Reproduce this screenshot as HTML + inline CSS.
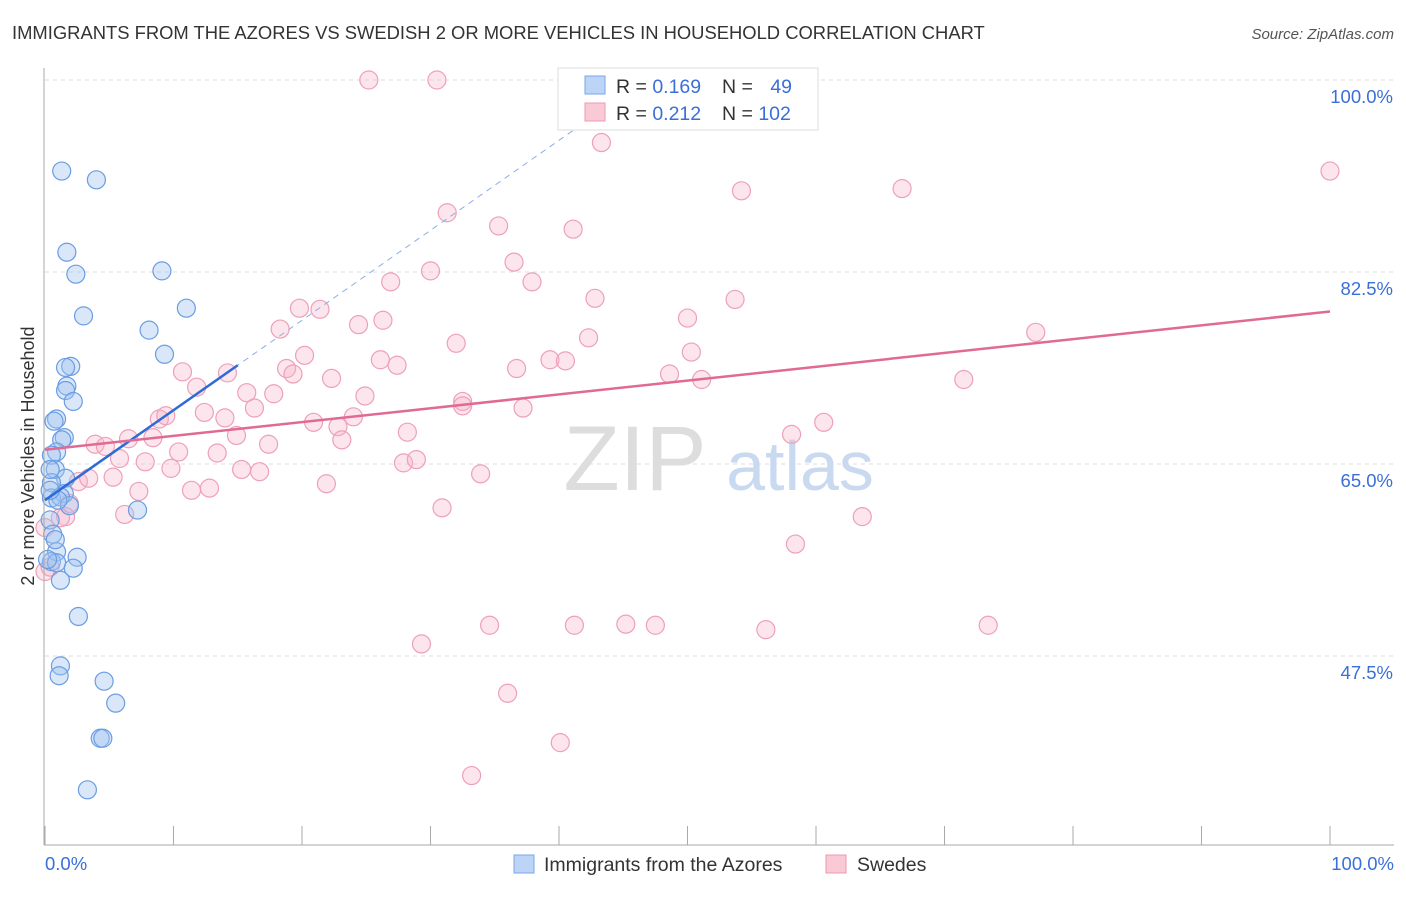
<!DOCTYPE html>
<html><head><meta charset="utf-8"><style>
body{margin:0;background:#fff;font-family:"Liberation Sans",sans-serif}
svg text{font-family:"Liberation Sans",sans-serif}
</style></head><body>
<svg id="chart" width="1406" height="892" xmlns="http://www.w3.org/2000/svg">
<text x="12" y="39" font-size="18.4" fill="#333">IMMIGRANTS FROM THE AZORES VS SWEDISH 2 OR MORE VEHICLES IN HOUSEHOLD CORRELATION CHART</text>
<text x="1394" y="39" font-size="15" fill="#555" font-style="italic" text-anchor="end">Source: ZipAtlas.com</text>
<g id="grid"></g>
<text x="635" y="490" font-size="92" fill="#ddd" font-family="Liberation Serif" text-anchor="middle">ZIP</text>
<text x="800" y="490" font-size="70" fill="#c9daf0" text-anchor="middle">atlas</text>
<g id="pts"></g>
<g id="lines"></g>
<line x1="44" y1="68" x2="44" y2="845" stroke="#aaa"/>
<line x1="44" y1="845" x2="1394" y2="845" stroke="#aaa"/>
<text transform="translate(34,456) rotate(-90)" font-size="18" fill="#333" text-anchor="middle">2 or more Vehicles in Household</text>
<text x="45" y="870" font-size="18.5" fill="#3a6fd8">0.0%</text>
<text x="1394" y="870" font-size="18.5" fill="#3a6fd8" text-anchor="end">100.0%</text>
<g>
<rect x="558" y="68" width="260" height="62" fill="#fff" stroke="#ddd"/>
<rect x="585" y="76" width="20" height="18" fill="#bcd4f6" stroke="#7aa6e8"/>
<rect x="585" y="103" width="20" height="18" fill="#f9c9d6" stroke="#ec9ab2"/>
<text x="616" y="93" font-size="19.5" fill="#333">R = <tspan fill="#3a6fd8">0.169</tspan></text>
<text x="722" y="93" font-size="19.5" fill="#333">N = <tspan fill="#3a6fd8" dx="12">49</tspan></text>
<text x="616" y="120" font-size="19.5" fill="#333">R = <tspan fill="#3a6fd8">0.212</tspan></text>
<text x="722" y="120" font-size="19.5" fill="#333">N = <tspan fill="#3a6fd8">102</tspan></text>
</g>
<g>
<rect x="514" y="855" width="20" height="18" fill="#bcd4f6" stroke="#7aa6e8"/>
<text x="544" y="871" font-size="19.5" fill="#333">Immigrants from the Azores</text>
<rect x="826" y="855" width="20" height="18" fill="#f9c9d6" stroke="#ec9ab2"/>
<text x="857" y="871" font-size="19.5" fill="#333">Swedes</text>
</g>
</svg>
<script>
const yTicks=[100,82.5,65,47.5];
const xTicks=[0,10,20,30,40,50,60,70,80,90,100];
const blueX=[1.3,4,1.7,2.4,9.1,11,3,8.1,9.3,2,1.6,1.7,1.6,2.2,0.9,0.7,1.5,1.3,0.9,0.5,0.8,1.6,0.5,1.5,0.5,1.2,1.9,7.2,0.4,0.6,0.9,2.5,0.5,0.9,2.2,1.2,2.6,1.2,1.1,4.6,5.5,4.3,4.5,3.3,0.4,0.2,1,0.8,0.4];
const blueY=[91.7,90.9,84.3,82.3,82.6,79.2,78.5,77.2,75,73.9,73.8,72.1,71.7,70.7,69.1,68.9,67.4,67.2,66.1,65.8,64.5,63.7,63.3,62.3,61.9,62,61.2,60.8,59.9,58.6,57,56.5,56.1,56,55.5,54.4,51.1,46.6,45.7,45.2,43.2,40,40,35.3,64.5,56.3,61.7,58.1,62.6];
const pinkX=[25.2,30.5,43.3,100,54.2,66.7,31.3,35.3,41.1,36.5,30,37.9,26.9,42.8,53.7,19.8,21.4,77.1,50,18.3,24.4,26.3,32,42.3,50.3,20.2,39.3,40.5,26.1,27.4,36.7,14.2,18.8,19.3,10.7,22.3,48.6,51.1,71.5,11.8,15.7,17.8,24.9,16.3,32.5,32.5,37.2,12.4,8.9,14,9.4,24,20.9,22.8,60.6,28.2,14.9,58.1,8.4,10.4,3.9,6.5,4.7,23.1,17.4,13.4,5.8,7.8,9.8,16.7,15.3,27.9,28.9,33.9,2.6,5.3,3.4,7.3,11.4,21.9,12.8,1.9,30.9,6.2,63.6,1.6,58.4,0,0,34.6,41.2,45.2,47.5,56.1,73.4,29.3,36,40.1,33.2,0.4,1.2];
const pinkY=[100,100,94.3,91.7,89.9,90.1,87.9,86.7,86.4,83.4,82.6,81.6,81.6,80.1,80,79.2,79.1,77,78.3,77.3,77.7,78.1,76,76.5,75.2,74.9,74.5,74.4,74.5,74,73.7,73.3,73.7,73.2,73.4,72.8,73.2,72.7,72.7,72,71.5,71.4,71.2,70.1,70.7,70.3,70.1,69.7,69.1,69.2,69.4,69.3,68.8,68.4,68.8,67.9,67.6,67.7,67.4,66.1,66.8,67.3,66.6,67.2,66.8,66,65.5,65.2,64.6,64.3,64.5,65.1,65.4,64.1,63.4,63.8,63.7,62.5,62.6,63.2,62.8,61.4,61,60.4,60.2,60.2,57.7,59.2,55.2,50.3,50.3,50.4,50.3,49.9,50.3,48.6,44.1,39.6,36.6,55.6,60.1];
const X=v=>45+v*12.85, Y=v=>80+(100-v)*10.971;
const NS='http://www.w3.org/2000/svg';
function mk(t,a,p){const e=document.createElementNS(NS,t);for(const k in a)e.setAttribute(k,a[k]);p.appendChild(e);return e;}
const grid=document.getElementById('grid');
yTicks.forEach(t=>{
 const l=mk('line',{x1:45,x2:1393,y1:Y(t),y2:Y(t),stroke:'#ddd','stroke-dasharray':'4,4'},grid);
 
 
 const tx=mk('text',{x:1393,y:Y(t)+23,'font-size':18.5,fill:'#3a6fd8','text-anchor':'end'},grid);
 tx.textContent=t.toFixed(1)+'%';
 
 
});
xTicks.forEach(t=>{
 const l=mk('line',{x1:X(t),x2:X(t),y1:826,y2:845,stroke:'#aaa'},grid);
 
 
});
const pts=document.getElementById('pts');
pinkX.forEach((v,i)=>{
 const c=mk('circle',{cx:X(v),cy:Y(pinkY[i]),r:9,fill:'rgba(246,180,200,0.35)',stroke:'#eea0b8','stroke-width':1.2},pts);
 
 
});
blueX.forEach((v,i)=>{
 const c=mk('circle',{cx:X(v),cy:Y(blueY[i]),r:9,fill:'rgba(160,195,240,0.4)',stroke:'#6a9de3','stroke-width':1.2},pts);
 
 
});
const lines=document.getElementById('lines');
const s=(74-61.7)/15;
let l=mk('line',{x1:X(0),y1:Y(61.7),x2:X(42),y2:Y(61.7+s*42),stroke:'#8aaee8','stroke-dasharray':'6,5','stroke-width':1},lines);


l=mk('line',{x1:X(0),y1:Y(61.7),x2:X(15),y2:Y(74),stroke:'#2f6bd6','stroke-width':2.5},lines);


l=mk('line',{x1:X(0),y1:Y(66.3),x2:X(100),y2:Y(78.9),stroke:'#e06a95','stroke-width':2.5},lines);


</script>
</body></html>
